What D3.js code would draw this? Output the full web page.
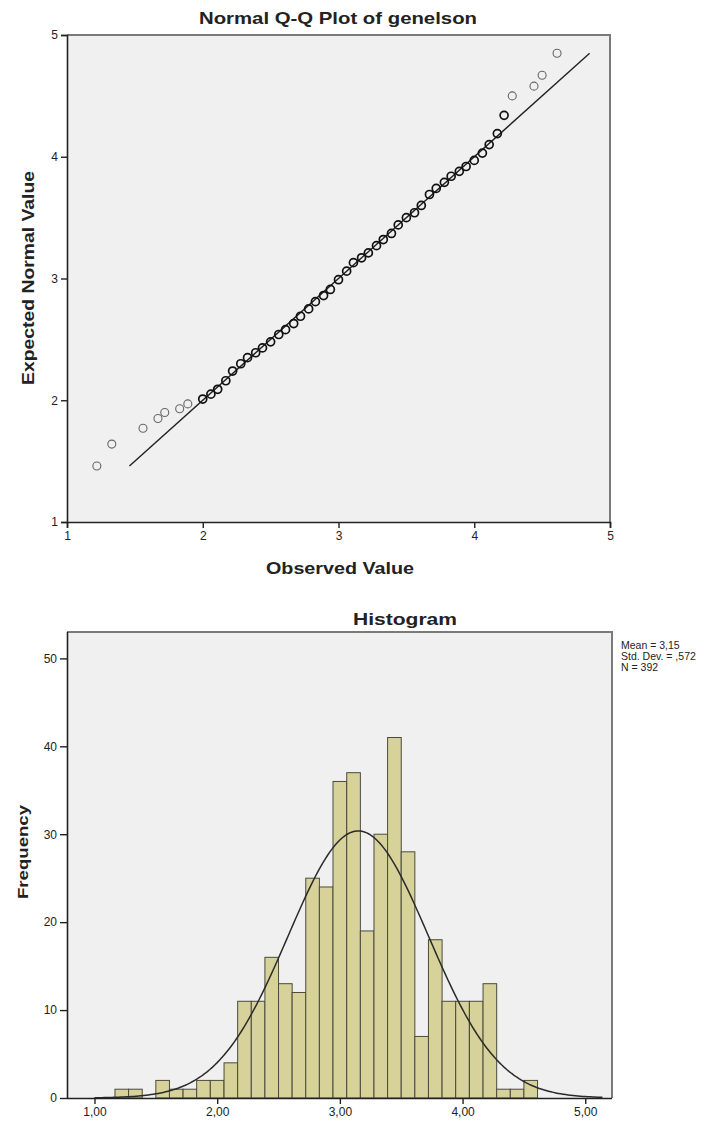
<!DOCTYPE html>
<html>
<head>
<meta charset="utf-8">
<script src="https://cdn.jsdelivr.net/npm/d3@7/dist/d3.min.js"></script>
<style>
  body { margin: 0; background: #fff; }
  text { font-family: "Liberation Sans", Arial, sans-serif; fill: #222; }
  .tick text { font-size: 12px; }
  .bold { font-weight: bold; }
</style>
</head>
<body>
<script>
// Q-Q plot points (observed value, expected normal value)
var qqObserved = [1.22, 1.33, 1.56, 1.67, 1.72, 1.83, 1.89, 2.00, 2.06, 2.11, 2.17, 2.22, 2.28, 2.33,
  2.39, 2.44, 2.50, 2.56, 2.61, 2.67, 2.72, 2.78, 2.83, 2.89, 2.94, 3.00, 3.06, 3.11, 3.17, 3.22,
  3.28, 3.33, 3.39, 3.44, 3.50, 3.56, 3.61, 3.67, 3.72, 3.78, 3.83, 3.89, 3.94, 4.00, 4.06, 4.11,
  4.17, 4.22, 4.28, 4.44, 4.50, 4.61];
var qqExpected = [1.46, 1.64, 1.77, 1.85, 1.90, 1.93, 1.97, 2.01, 2.05, 2.09, 2.16, 2.24, 2.30, 2.35,
  2.39, 2.43, 2.48, 2.54, 2.58, 2.63, 2.69, 2.75, 2.81, 2.86, 2.91, 2.99, 3.06, 3.13, 3.17, 3.21,
  3.27, 3.32, 3.37, 3.44, 3.50, 3.54, 3.60, 3.69, 3.74, 3.79, 3.84, 3.88, 3.92, 3.97, 4.03, 4.10,
  4.19, 4.34, 4.50, 4.58, 4.67, 4.85];
var qqTicks = [1, 2, 3, 4, 5];

// histogram bins (lower edge) and frequencies
var binLower = [1.167, 1.278, 1.389, 1.500, 1.611, 1.722, 1.833, 1.944, 2.056, 2.167, 2.278, 2.389,
  2.500, 2.611, 2.722, 2.833, 2.944, 3.056, 3.167, 3.278, 3.389, 3.500, 3.611, 3.722, 3.833, 3.944,
  4.056, 4.167, 4.278, 4.389, 4.500];
var binWidth = 0.1111;
var frequency = [1, 1, 0, 2, 1, 1, 2, 2, 4, 11, 11, 16, 13, 12, 25, 24, 36, 37, 19, 30, 41, 28, 7, 18,
  11, 11, 11, 13, 1, 1, 2];
var histXTicks = [1, 2, 3, 4, 5];
var histYTicks = [0, 10, 20, 30, 40, 50];
var mean = 3.15, stdDev = 0.572, n = 392;
var statLines = ["Mean = 3,15", "Std. Dev. = ,572", "N = 392"];

var svg = d3.select("body").append("svg")
  .attr("width", 725)
  .attr("height", 1128);

function frame(g, x0, x1, y0, y1) {
  g.append("rect").attr("x", x0).attr("y", y0).attr("width", x1 - x0).attr("height", y1 - y0)
    .attr("fill", "#f0f0f0");
  g.append("path").attr("d", "M" + x0 + "," + y0 + "H" + x1 + "V" + y1)
    .attr("fill", "none").attr("stroke", "#7a7a7a").attr("stroke-width", 2);
}

function styleAxis(g) {
  g.select(".domain").attr("stroke", "#222").attr("stroke-width", 1.6);
  g.selectAll(".tick line").attr("stroke", "#222").attr("stroke-width", 1.4);
  g.selectAll(".tick text").attr("fill", "#222");
}

// ---------- Q-Q plot ----------
var xQ = d3.scaleLinear().domain([1, 5]).range([67, 610]);
var yQ = d3.scaleLinear().domain([1, 5]).range([522, 35]);

var qq = svg.append("g");
frame(qq, 67, 610, 35, 522);

var refExt = d3.extent(qqExpected);
qq.append("line")
  .attr("x1", xQ(refExt[0])).attr("y1", yQ(refExt[0]))
  .attr("x2", xQ(refExt[1])).attr("y2", yQ(refExt[1]))
  .attr("stroke", "#222").attr("stroke-width", 1.4);

qq.append("g").selectAll("circle")
  .data(qqObserved)
  .enter().append("circle")
    .attr("cx", function(d) { return xQ(d); })
    .attr("cy", function(d, i) { return yQ(qqExpected[i]); })
    .attr("r", 4)
    .attr("fill", "none")
    .attr("stroke", function(d) { return d >= 2 && d <= 4.23 ? "#111" : "#666"; })
    .attr("stroke-width", function(d) { return d >= 2 && d <= 4.23 ? 1.7 : 1.1; });

qq.append("g")
  .attr("transform", "translate(0,522)")
  .call(d3.axisBottom(xQ).tickValues(qqTicks).tickSize(6).tickPadding(3).tickFormat(d3.format("d")))
  .call(styleAxis);
qq.append("g")
  .attr("transform", "translate(67,0)")
  .call(d3.axisLeft(yQ).tickValues(qqTicks).tickSize(6).tickPadding(3).tickFormat(d3.format("d")))
  .call(styleAxis);

qq.append("text").attr("class", "bold")
  .attr("x", 338).attr("y", 24).attr("text-anchor", "middle")
  .attr("font-size", 17).attr("textLength", 278).attr("lengthAdjust", "spacingAndGlyphs")
  .text("Normal Q-Q Plot of genelson");
qq.append("text").attr("class", "bold")
  .attr("x", 340).attr("y", 574).attr("text-anchor", "middle")
  .attr("font-size", 16).attr("textLength", 148).attr("lengthAdjust", "spacingAndGlyphs")
  .text("Observed Value");
qq.append("text").attr("class", "bold")
  .attr("transform", "translate(34,278) rotate(-90)").attr("text-anchor", "middle")
  .attr("font-size", 16).attr("textLength", 214).attr("lengthAdjust", "spacingAndGlyphs")
  .text("Expected Normal Value");

// ---------- Histogram ----------
var xH = d3.scaleLinear().domain([0.776, 5.218]).range([67, 612]);
var yH = d3.scaleLinear().domain([0, 53]).range([1098, 632]);

var hist = svg.append("g");
frame(hist, 67, 612, 632, 1098);

hist.append("g").selectAll("rect")
  .data(frequency)
  .enter().append("rect")
    .attr("x", function(d, i) { return xH(binLower[i]); })
    .attr("y", function(d) { return yH(d); })
    .attr("width", function(d, i) { return xH(binLower[i] + binWidth) - xH(binLower[i]); })
    .attr("height", function(d) { return yH(0) - yH(d); })
    .attr("fill", "#d6d29a")
    .attr("stroke", function(d) { return d > 0 ? "#4b4a3c" : "none"; })
    .attr("stroke-width", 1);

// fitted normal curve from the stated mean, std. dev. and N
var curveX = d3.range(1.0, 5.16, 0.02);
var normal = function(x) {
  return n * binWidth / (stdDev * Math.sqrt(2 * Math.PI)) *
    Math.exp(-0.5 * Math.pow((x - mean) / stdDev, 2));
};
hist.append("path")
  .datum(curveX)
  .attr("fill", "none")
  .attr("stroke", "#2a2a2a")
  .attr("stroke-width", 1.5)
  .attr("d", d3.line().x(function(d) { return xH(d); }).y(function(d) { return yH(normal(d)); }));

hist.append("g")
  .attr("transform", "translate(0,1098)")
  .call(d3.axisBottom(xH).tickValues(histXTicks).tickSize(6).tickPadding(3)
    .tickFormat(function(d) { return d3.format(".2f")(d).replace(".", ","); }))
  .call(styleAxis)
  .call(function(g) { g.select(".domain").attr("d", "M67,0.5H612"); g.selectAll(".tick text").attr("fill", "#444"); });
hist.append("g")
  .attr("transform", "translate(67,0)")
  .call(d3.axisLeft(yH).tickValues(histYTicks).tickSize(7).tickPadding(3))
  .call(styleAxis)
  .call(function(g) { g.select(".domain").attr("d", "M0.5,632V1098"); g.selectAll(".tick text").attr("fill", "#444"); });

hist.append("text").attr("class", "bold")
  .attr("x", 405).attr("y", 625).attr("text-anchor", "middle")
  .attr("font-size", 17).attr("textLength", 104).attr("lengthAdjust", "spacingAndGlyphs")
  .text("Histogram");
hist.append("text").attr("class", "bold")
  .attr("transform", "translate(28,852) rotate(-90)").attr("text-anchor", "middle")
  .attr("font-size", 15).attr("textLength", 94).attr("lengthAdjust", "spacingAndGlyphs")
  .text("Frequency");

hist.append("g").selectAll("text")
  .data(statLines)
  .enter().append("text")
    .attr("x", 621)
    .attr("y", function(d, i) { return 649 + i * 11; })
    .attr("font-size", 10.5)
    .attr("fill", "#333")
    .text(function(d) { return d; });
</script>
</body>
</html>
